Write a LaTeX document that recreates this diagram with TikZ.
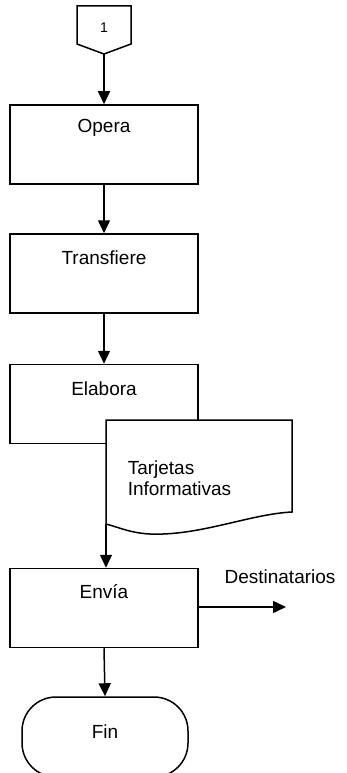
\documentclass[tikz,border=0pt]{standalone}
\usepackage{fontspec}
\setmainfont{Liberation Sans}
\usetikzlibrary{arrows.meta}
\begin{document}
\begin{tikzpicture}[x=1pt,y=-1pt,
  line width=1.5pt,
  lbl/.style={font=\fontsize{19}{22}\selectfont, inner sep=0pt, anchor=center},
  procbox/.style={draw, minimum width=188pt, minimum height=79pt, inner sep=0pt},
  flow/.style={-{Triangle[length=13pt,width=12pt]}}]
\useasboundingbox (0,0) rectangle (347,773);
\clip (0,0) rectangle (347,773);

% off-page connector
\draw (77,6) -- (131,6) -- (131,44) -- (104,54) -- (77,44) -- cycle;
\coordinate (conn) at (104,54);
\node[lbl, font=\fontsize{14}{16}\selectfont] (num) at (104,28) {1};

% process boxes
\node[procbox] (opera) at (104,144.5) {};
\node[lbl] (operat) at (104,128) {Opera};
\node[procbox] (transf) at (104,273.5) {};
\node[lbl] (transft) at (104,258) {Transfiere};
\node[procbox] (elab) at (104,404) {};
\node[lbl] (elabt) at (104,389) {Elabora};

% document
\draw[fill=white] (106,420) -- (292,420) -- (292,512)
  .. controls (250,514) and (200,536) .. (150,534)
  .. controls (130,533) and (118,527) .. (106,524) -- cycle;
\coordinate (docbl) at (106,524);
\node[lbl, align=left, anchor=west] (doct) at (127,478)
  {Tarjetas\\[-1pt]Informativas};

\node[procbox] (envia) at (104,608) {};
\node[lbl] (enviat) at (104,592) {Envía};
\node[lbl] (dest) at (280,577) {Destinatarios};
\coordinate (destend) at (286,607);

% terminator
\node[draw, rounded corners=34pt, minimum width=166pt, minimum height=80pt,
  inner sep=0pt] (fin) at (105,737) {};
\node[lbl] (fint) at (105,732) {Fin};

% connectors
\draw[flow] (conn) -- (opera.north);
\draw[flow] (opera.south) -- (transf.north);
\draw[flow] (transf.south) -- (elab.north);
\draw[flow] (docbl) -- (envia.north -| docbl);
\draw[flow] (envia.east |- destend) -- (destend);
\draw[flow] (envia.south) -- (fin.north);
\end{tikzpicture}
\end{document}
